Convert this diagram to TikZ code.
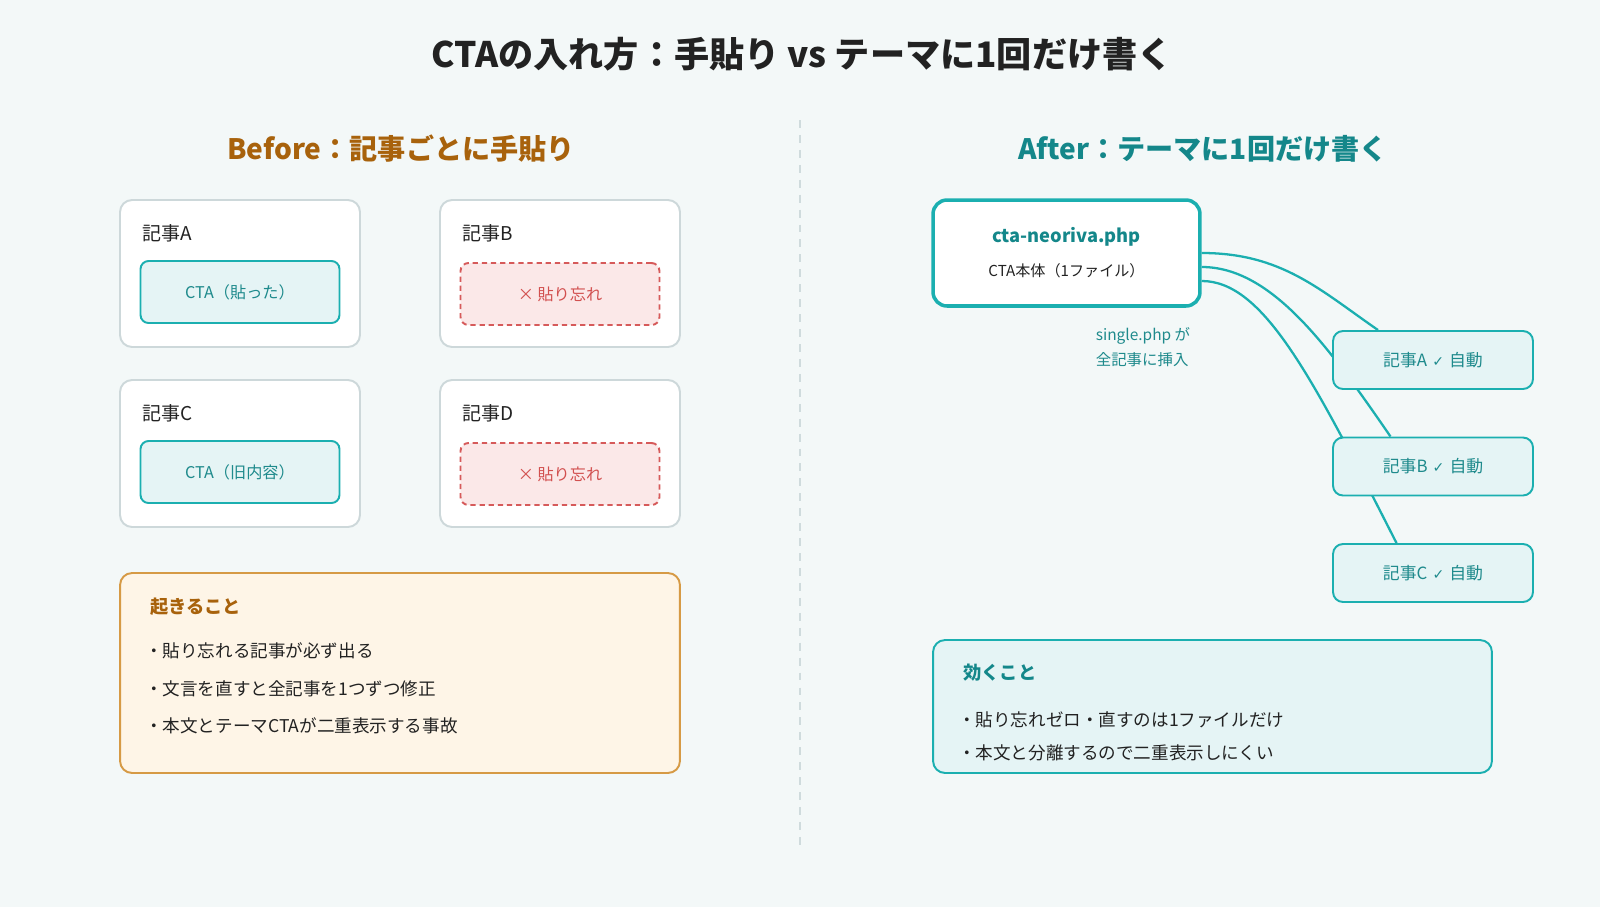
\documentclass[tikz,border=0pt]{standalone}
\usepackage{fontspec}
\setmainfont{Noto Sans CJK JP}
\newfontfamily\symfont{DejaVu Sans}
\usetikzlibrary{positioning}
\definecolor{bgcol}{HTML}{F3F8F8}
\definecolor{ink}{HTML}{222222}
\definecolor{brown}{HTML}{A8620C}
\definecolor{tealdark}{HTML}{14878A}
\definecolor{tealline}{HTML}{1BAFB0}
\definecolor{tealfill}{HTML}{E5F4F5}
\definecolor{tealtext}{HTML}{1E8A8C}
\definecolor{grayline}{HTML}{CDD8DA}
\definecolor{redline}{HTML}{D65A5A}
\definecolor{redfill}{HTML}{FBE8E8}
\definecolor{redtext}{HTML}{D2504F}
\definecolor{orangeline}{HTML}{D69A45}
\definecolor{orangefill}{HTML}{FEF5E7}
\definecolor{divcol}{HTML}{CFDBDD}
\pgfdeclarelayer{back}
\pgfsetlayers{back,main}
\newcommand{\okmark}{\hspace{0.3em}{\symfont\fontsize{8}{10}\selectfont ✓}\hspace{0.3em}}
\tikzset {
  box/.style = {
    rectangle,
    inner sep = 0
  },
  % article card on the left
  article box/.style = {
    box,
    draw = grayline,
    fill = white,
    line width = 1.1pt,
    rounded corners = 0.24cm,
    minimum width = 4.8cm,
    minimum height = 2.94cm
  },
  % pasted cta
  cta box/.style = {
    box,
    draw = tealline,
    fill = tealfill,
    line width = 1.1pt,
    rounded corners = 0.16cm,
    minimum width = 3.98cm,
    minimum height = 1.24cm,
    text = tealtext,
    font = \fontsize{9.2}{11}\selectfont
  },
  % forgotten cta
  miss box/.style = {
    cta box,
    draw = redline,
    fill = redfill,
    text = redtext,
    dash pattern = on 3pt off 2.2pt
  },
  note box/.style = {
    box,
    line width = 1.1pt,
    rounded corners = 0.24cm
  },
  file box/.style = {
    box,
    draw = tealline,
    fill = white,
    line width = 2pt,
    rounded corners = 0.28cm,
    minimum width = 5.34cm,
    minimum height = 2.12cm
  },
  auto box/.style = {
    box,
    draw = tealline,
    fill = tealfill,
    line width = 1.1pt,
    rounded corners = 0.2cm,
    minimum width = 4cm,
    minimum height = 1.16cm,
    text = tealtext,
    font = \fontsize{9.6}{11}\selectfont
  },
  link/.style = {
    draw = tealline,
    line width = 1.3pt
  },
  title text/.style = {
    text = ink,
    font = \fontsize{20}{24}\selectfont\bfseries
  },
  head text/.style = {
    font = \fontsize{16}{19}\selectfont\bfseries
  },
  label text/.style = {
    text = ink,
    anchor = west,
    font = \fontsize{10.8}{12}\selectfont
  },
  item text/.style = {
    text = ink,
    anchor = west,
    font = \fontsize{10}{12}\selectfont
  },
  node distance = 0.5cm
}

\begin{document}
\begin{tikzpicture}[x=0.02cm,y=-0.02cm]
  \begin{pgfonlayer}{back}
    \fill[bgcol] (0,0) rectangle (1600,907);
  \end{pgfonlayer}
  \useasboundingbox (0,0) rectangle (1600,907);

  \node[title text] (title) at (802,54) {CTAの入れ方：手貼り vs テーマに1回だけ書く};
  \draw[divcol, line width=1.3pt, dash pattern=on 4.5pt off 4pt] (800,120) -- (800,847);

  % before
  \node[head text, text=brown] (before) at (401,149) {Before：記事ごとに手貼り};
  \node[article box] (artA) at (240,273.5) {};
  \node[article box] (artB) at (560,273.5) {};
  \node[article box] (artC) at (240,453.5) {};
  \node[article box] (artD) at (560,453.5) {};
  \node[label text] (labA) at (136,233) {記事A};
  \node[label text] (labB) at (456,233) {記事B};
  \node[label text] (labC) at (136,413) {記事C};
  \node[label text] (labD) at (456,413) {記事D};
  \node[cta box] (ctaA) at (240,292) {CTA（貼った）};
  \node[miss box] (ctaB) at (560,294) {× 貼り忘れ};
  \node[cta box] (ctaC) at (240,472) {CTA（旧内容）};
  \node[miss box] (ctaD) at (560,474) {× 貼り忘れ};

  \node[note box, draw=orangeline, fill=orangefill, minimum width=11.2cm, minimum height=4cm] (risk) at (400,673) {};
  \node[item text, text=brown, font=\fontsize{10.4}{12}\selectfont\bfseries] (riskHead) at (144,607) {起きること};
  \node[item text] (risk1) at (139,651) {・貼り忘れる記事が必ず出る};
  \node[item text] (risk2) at (139,689) {・文言を直すと全記事を1つずつ修正};
  \node[item text] (risk3) at (139,726) {・本文とテーマCTAが二重表示する事故};

  % after
  \node[head text, text=tealdark] (after) at (1203,149) {After：テーマに1回だけ書く};
  \node[file box] (file) at (1066.5,253) {};
  \node[text=tealdark, font=\fontsize{10.4}{12}\selectfont\bfseries] (fileName) at (1066.5,237) {cta-neoriva.php};
  \node[text=ink, font=\fontsize{8.6}{10}\selectfont] (fileSub) at (1066.5,271) {CTA本体（1ファイル）};
  \node[text=tealtext, align=left, font=\fontsize{8.8}{14}\selectfont] (insert) at (1143,347) {single.php が\\全記事に挿入};

  \node[auto box] (autoA) at (1433,360) {記事A\okmark 自動};
  \node[auto box] (autoB) at (1433,466.5) {記事B\okmark 自動};
  \node[auto box] (autoC) at (1433,573) {記事C\okmark 自動};

  \begin{pgfonlayer}{back}
    \draw[link] (file.east) .. controls +(80,0) and +(-58,-40) .. ([xshift=-1.1cm]autoA.north);
    \draw[link] ([yshift=-0.28cm]file.east) .. controls +(70,0) and +(-62,-90) .. ([xshift=-0.85cm]autoB.north);
    \draw[link] ([yshift=-0.56cm]file.east) .. controls +(62,0) and +(-84,-165) .. ([xshift=-0.73cm]autoC.north);
  \end{pgfonlayer}

  \node[note box, draw=tealline, fill=tealfill, minimum width=11.18cm, minimum height=2.66cm] (gain) at (1212.5,706.5) {};
  \node[item text, text=tealdark, font=\fontsize{10.4}{12}\selectfont\bfseries] (gainHead) at (957,673) {効くこと};
  \node[item text] (gain1) at (952,720) {・貼り忘れゼロ・直すのは1ファイルだけ};
  \node[item text] (gain2) at (952,753) {・本文と分離するので二重表示しにくい};
\end{tikzpicture}
\end{document}
